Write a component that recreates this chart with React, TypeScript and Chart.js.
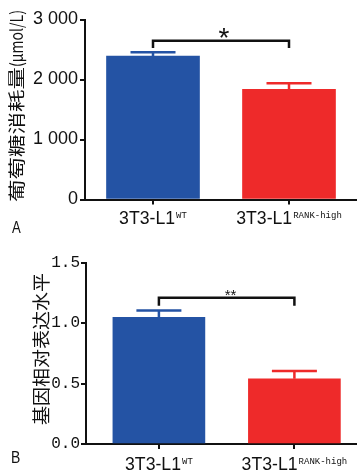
import React, { useEffect, useRef } from "react";
import { Chart, registerables } from "chart.js";
Chart.register(...registerables);

// ---------- data ----------
const categories = ["3T3-L1", "3T3-L1"];
const superscripts = ["WT", "RANK-high"];
const barColors = ["#2453A4", "#EE2A2A"];

const glucoseValues = [2392, 1837];
const glucoseErrors = [61, 100];
const glucoseTicks = [0, 1000, 2000, 3000];
const glucoseTickLabels = ["0", "1 000", "2 000", "3 000"];
const glucoseTitleCjk = "葡萄糖消耗量";
const glucoseTitleUnit = "(μmol/L)";
const glucoseSig = "*";
const glucoseBracket = [2647, 2525];

const expressionValues = [1.047, 0.54];
const expressionErrors = [0.058, 0.063];
const expressionTicks = [0, 0.5, 1.0, 1.5];
const expressionTickLabels = ["0.0", "0.5", "1.0", "1.5"];
const expressionTitle = "基因相对表达水平";
const expressionSig = "**";
const expressionBracket = [1.209, 1.143];

const panelLetters = ["A", "B"];

// ---------- helpers ----------
function drawScaled(ctx: CanvasRenderingContext2D, text: string, x: number, y: number, sx: number) {
  ctx.save();
  ctx.translate(x, y);
  ctx.scale(sx, 1);
  ctx.textAlign = "left";
  ctx.fillText(text, 0, 0);
  ctx.restore();
}

function drawCentered(ctx: CanvasRenderingContext2D, text: string, cx: number, cy: number) {
  const m = ctx.measureText(text);
  const w = m.actualBoundingBoxRight + m.actualBoundingBoxLeft;
  const h = m.actualBoundingBoxAscent + m.actualBoundingBoxDescent;
  ctx.textAlign = "left";
  ctx.textBaseline = "alphabetic";
  ctx.fillText(text, cx - w / 2 + m.actualBoundingBoxLeft, cy - h / 2 + m.actualBoundingBoxAscent);
}

type Panel = {
  width: number;
  height: number;
  values: number[];
  errors: number[];
  ticks: number[];
  tickLabels: string[];
  yMax: number;
  xMin: number;
  xMax: number;
  barThickness: number;
  padTop: number;
  yWidth: number;
  xHeight: number;
  tickFont: { family: string; size: number };
  tickLength: number;
  tickPadding: number;
  bracket: number[];
  sig: string;
  sigFont: string;
  sigDx: number;
  sigY: number;
  labelBaseline: number;
  letter: string;
  letterX: number;
  letterY: number;
  letterFont: string;
  titleParts: { text: string; width: number }[];
  titleFont: string;
  titleCx: number;
  titleCy: number;
};

function makeOverlay(p: Panel) {
  return {
    id: "overlay",
    afterDraw(chart: any) {
      const ctx: CanvasRenderingContext2D = chart.ctx;
      const xs = chart.scales.x;
      const ys = chart.scales.y;
      ctx.save();
      // error bars
      p.values.forEach((v, i) => {
        const x = xs.getPixelForValue(i);
        const y0 = ys.getPixelForValue(v);
        const y1 = ys.getPixelForValue(v + p.errors[i]);
        ctx.strokeStyle = barColors[i];
        ctx.lineWidth = 2.5;
        ctx.beginPath();
        ctx.moveTo(x, y0);
        ctx.lineTo(x, y1);
        ctx.moveTo(x - 22.5, y1);
        ctx.lineTo(x + 22.5, y1);
        ctx.stroke();
      });
      // significance bracket
      const bx0 = xs.getPixelForValue(0);
      const bx1 = xs.getPixelForValue(1);
      const by = ys.getPixelForValue(p.bracket[0]);
      const bd = ys.getPixelForValue(p.bracket[1]);
      ctx.strokeStyle = "#111";
      ctx.lineWidth = 2.5;
      ctx.lineJoin = "miter";
      ctx.beginPath();
      ctx.moveTo(bx0, bd);
      ctx.lineTo(bx0, by);
      ctx.lineTo(bx1, by);
      ctx.lineTo(bx1, bd);
      ctx.stroke();
      ctx.fillStyle = "#111";
      ctx.font = p.sigFont;
      drawCentered(ctx, p.sig, (bx0 + bx1) / 2 + p.sigDx, p.sigY);

      // x labels with superscripts
      ctx.fillStyle = "#111";
      categories.forEach((c, i) => {
        const cx = xs.getPixelForValue(i);
        ctx.font = '19px "Liberation Sans"';
        const sxMain = 0.93;
        const mw = ctx.measureText(c).width * sxMain;
        ctx.font = '9px "Liberation Mono"';
        const sw = ctx.measureText(superscripts[i]).width;
        const total = mw + 1 + sw;
        const left = cx - total / 2;
        ctx.textBaseline = "alphabetic";
        ctx.font = '19px "Liberation Sans"';
        drawScaled(ctx, c, left, p.labelBaseline, sxMain);
        ctx.font = '9px "Liberation Mono"';
        drawScaled(ctx, superscripts[i], left + mw + 1, p.labelBaseline - 6.5, 1);
      });

      // panel letter
      ctx.font = p.letterFont;
      ctx.textBaseline = "alphabetic";
      drawScaled(ctx, p.letter, p.letterX, p.letterY, 0.82);

      // rotated y title
      ctx.save();
      ctx.translate(p.titleCx, p.titleCy);
      ctx.rotate(-Math.PI / 2);
      ctx.font = p.titleFont;
      ctx.textBaseline = "middle";
      const totalLen = p.titleParts.reduce((s, t) => s + t.width, 0);
      let pos = -totalLen / 2;
      p.titleParts.forEach((t) => {
        const w = ctx.measureText(t.text).width;
        drawScaled(ctx, t.text, pos, 0, t.width / w);
        pos += t.width;
      });
      ctx.restore();

      ctx.restore();
    },
  };
}

function BarPanel({ p, top }: { p: Panel; top: number }) {
  const ref = useRef<HTMLCanvasElement | null>(null);
  useEffect(() => {
    if (!ref.current) return;
    const chart = new Chart(ref.current, {
      type: "bar",
      data: {
        datasets: [
          {
            data: p.values.map((v, i) => ({ x: i, y: v })),
            backgroundColor: barColors,
            borderWidth: 0,
            barThickness: p.barThickness,
          } as any,
        ],
      },
      options: {
        animation: false,
        responsive: false,
        devicePixelRatio: 1,
        layout: { padding: { top: p.padTop, left: 0, right: 0, bottom: 0 } },
        plugins: { legend: { display: false }, tooltip: { enabled: false } },
        scales: {
          x: {
            type: "linear",
            min: p.xMin,
            max: p.xMax,
            offset: false,
            afterBuildTicks: (s: any) => {
              s.ticks = categories.map((_, i) => ({ value: i }));
            },
            afterFit: (s: any) => {
              s.height = p.xHeight;
            },
            ticks: { display: false },
            grid: {
              offset: false,
              drawOnChartArea: false,
              drawTicks: true,
              tickLength: 5,
              color: "#111",
              lineWidth: 2,
            },
            border: { display: true, color: "#111", width: 2 },
          },
          y: {
            type: "linear",
            min: 0,
            max: p.yMax,
            afterBuildTicks: (s: any) => {
              s.ticks = p.ticks.map((v) => ({ value: v }));
            },
            afterFit: (s: any) => {
              s.width = p.yWidth;
            },
            ticks: {
              color: "#111",
              font: p.tickFont,
              padding: p.tickPadding,
              callback: (v: any) => {
                const idx = p.ticks.findIndex((t) => Math.abs(t - Number(v)) < 1e-9);
                return idx >= 0 ? p.tickLabels[idx] : "";
              },
            },
            grid: {
              drawOnChartArea: false,
              drawTicks: true,
              tickLength: p.tickLength,
              color: "#111",
              lineWidth: 2,
            },
            border: { display: true, color: "#111", width: 2 },
          },
        },
      },
      plugins: [makeOverlay(p)],
    } as any);
    return () => chart.destroy();
  }, [p]);
  return (
    <canvas
      ref={ref}
      width={p.width}
      height={p.height}
      style={{ position: "absolute", left: 0, top, width: p.width, height: p.height }}
    />
  );
}

const panelA: Panel = {
  width: 357,
  height: 240,
  values: glucoseValues,
  errors: glucoseErrors,
  ticks: glucoseTicks,
  tickLabels: glucoseTickLabels,
  yMax: 3000,
  xMin: -0.5,
  xMax: 1.5,
  barThickness: 93,
  padTop: 19.5,
  yWidth: 85,
  xHeight: 40.5,
  tickFont: { family: '"Liberation Sans"', size: 18 },
  tickLength: 5,
  tickPadding: 2,
  bracket: glucoseBracket,
  sig: glucoseSig,
  sigFont: '28px "Liberation Sans"',
  sigDx: 3,
  sigY: 32.7,
  labelBaseline: 224,
  letter: panelLetters[0],
  letterX: 12,
  letterY: 233,
  letterFont: '16px "Liberation Sans"',
  titleParts: [
    { text: glucoseTitleCjk, width: 135 },
    { text: glucoseTitleUnit, width: 57 },
  ],
  titleFont: '17px "Noto Sans CJK SC"',
  titleCx: 16.5,
  titleCy: 106,
};

const panelB: Panel = {
  width: 357,
  height: 231,
  values: expressionValues,
  errors: expressionErrors,
  ticks: expressionTicks,
  tickLabels: expressionTickLabels,
  yMax: 1.5,
  xMin: -0.538,
  xMax: 1.462,
  barThickness: 92,
  padTop: 22.7,
  yWidth: 86,
  xHeight: 27,
  tickFont: { family: '"Liberation Mono"', size: 16 },
  tickLength: 5,
  tickPadding: 1,
  bracket: expressionBracket,
  sig: expressionSig,
  sigFont: '15px "Liberation Sans"',
  sigDx: 4,
  sigY: 52.5,
  labelBaseline: 230,
  letter: panelLetters[1],
  letterX: 11,
  letterY: 223,
  letterFont: '17px "Liberation Sans"',
  titleParts: [{ text: expressionTitle, width: 152 }],
  titleFont: '18px "Noto Sans CJK SC"',
  titleCx: 41,
  titleCy: 109,
};

export default function App() {
  return (
    <div style={{ position: "absolute", left: 0, top: 0, width: 357, height: 471, overflow: "hidden", background: "#fff" }}>
      <BarPanel p={panelA} top={0} />
      <BarPanel p={panelB} top={240} />
    </div>
  );
}
